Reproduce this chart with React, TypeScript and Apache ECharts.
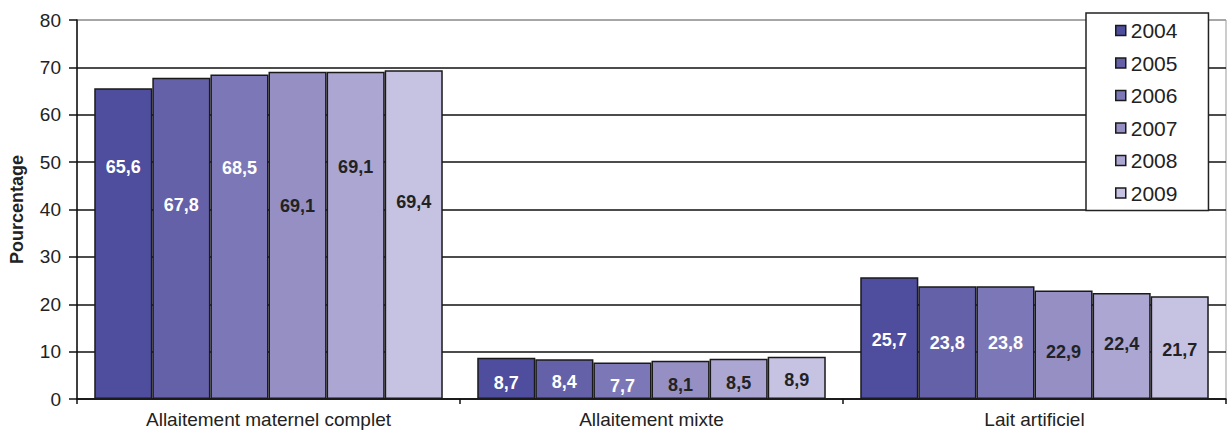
import React, { useEffect, useRef } from "react";
import * as echarts from "echarts";

const categories = ["Allaitement maternel complet", "Allaitement mixte", "Lait artificiel"];
const years = ["2004", "2005", "2006", "2007", "2008", "2009"];
const v2004 = [65.6, 8.7, 25.7];
const v2005 = [67.8, 8.4, 23.8];
const v2006 = [68.5, 7.7, 23.8];
const v2007 = [69.1, 8.1, 22.9];
const v2008 = [69.1, 8.5, 22.4];
const v2009 = [69.4, 8.9, 21.7];
const yTicks = [0, 10, 20, 30, 40, 50, 60, 70, 80];

const seriesValues = [v2004, v2005, v2006, v2007, v2008, v2009];
const colors = ["#4e4d9e", "#6461a9", "#7c78b7", "#958fc4", "#aca6d3", "#c6c2e2"];
const labelColors = ["#ffffff", "#ffffff", "#ffffff", "#222222", "#222222", "#222222"];
// label vertical offsets (px) from bar centre, per series, per category
const labelDy = [
  [-77, 5, 2],
  [-33, 3, 0],
  [-69, 5, 0],
  [-29, 5, 7],
  [-68, 4, -2],
  [-33, 2, 2],
];

export default function App() {
  const ref = useRef<HTMLDivElement>(null);
  useEffect(() => {
    if (!ref.current) return;
    const chart = echarts.init(ref.current, null, { renderer: "svg" });
    const font = "'Liberation Sans', Arial, sans-serif";
    const series = years.map((y, si) => ({
      name: y,
      type: "bar",
      barGap: "0%",
      barCategoryGap: "9%",
      itemStyle: { color: colors[si], borderColor: "#1a1a1a", borderWidth: 1.5 },
      data: seriesValues[si].map((v, ci) => ({
        value: v,
        label: { offset: [0, labelDy[si][ci]] },
      })),
      label: {
        show: true,
        position: "inside",
        formatter: (p: any) => String(p.value).replace(".", ","),
        color: labelColors[si],
        fontFamily: font,
        fontWeight: "bold",
        fontSize: 18,
      },
    }));
    const splitColors = yTicks.map((t) => (t === 80 ? "#9a9a9a" : "#111111"));
    chart.setOption({
      animation: false,
      backgroundColor: "#ffffff",
      grid: {
        left: 77,
        right: 2,
        top: 20,
        bottom: 34,
        show: true,
        borderColor: "#9a9a9a",
        borderWidth: 1,
      },
      legend: {
        orient: "vertical",
        left: 1086,
        top: 13,
        data: years,
        icon: "rect",
        itemWidth: 10,
        itemHeight: 10,
        itemGap: 11.5,
        padding: [7, 31, 7, 29],
        borderColor: "#222222",
        borderWidth: 1.5,
        backgroundColor: "#ffffff",
        textStyle: { fontFamily: font, fontSize: 21, color: "#222222", lineHeight: 20 },
        itemStyle: { borderColor: "#1a1a1a", borderWidth: 1.5 },
      },
      xAxis: {
        type: "category",
        data: categories,
        axisLine: { lineStyle: { color: "#111111", width: 1.5 } },
        axisTick: { show: true, length: 5, lineStyle: { color: "#111111", width: 1.5 } },
        axisLabel: { fontFamily: font, fontSize: 19, color: "#222222", margin: 11 },
      },
      yAxis: {
        type: "value",
        min: 0,
        max: 80,
        interval: 10,
        name: "Pourcentage",
        nameLocation: "middle",
        nameGap: 51,
        nameTextStyle: { fontFamily: font, fontSize: 18, fontWeight: "bold", color: "#222222" },
        axisLine: { show: true, lineStyle: { color: "#111111", width: 1.5 } },
        axisTick: { show: true, length: 8, lineStyle: { color: "#111111", width: 1.5 } },
        axisLabel: { fontFamily: font, fontSize: 19, color: "#222222", margin: 16 },
        splitLine: { show: true, lineStyle: { color: splitColors, width: 1.5 } },
      },
      series,
    });
    return () => chart.dispose();
  }, []);
  return (
    <div
      ref={ref}
      style={{ position: "fixed", left: 0, top: 0, width: 1228, height: 433 }}
    />
  );
}
